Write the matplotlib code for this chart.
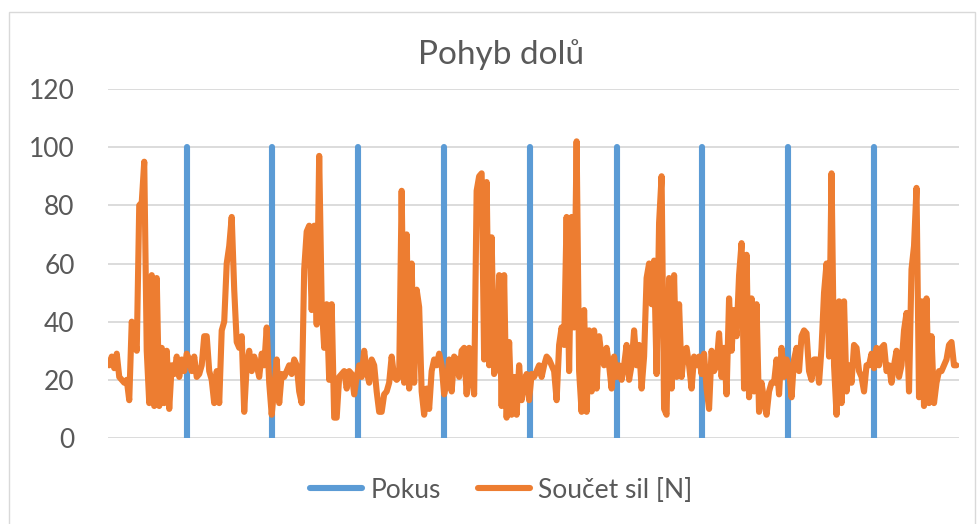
import matplotlib.pyplot as plt
from matplotlib.patches import Rectangle

# soucet sil [N] (4 hodnoty na ~10 px)
soucet_sil = [
    25, 28, 24, 29, 21, 20, 19, 20, 13, 40, 35, 30, 80, 81, 95, 30,
    12, 56, 11, 55, 11, 31, 12, 30, 10, 25, 22, 28, 21, 27, 23, 29,
    27, 23, 28, 21, 22, 25, 35, 35, 23, 20, 12, 23, 12, 37, 40, 60,
    66, 76, 51, 33, 31, 35, 9, 25, 30, 23, 28, 25, 21, 29, 25, 38,
    19, 8, 17, 27, 12, 22, 21, 23, 25, 22, 27, 25, 16, 12, 58, 71,
    73, 44, 73, 39, 97, 46, 31, 46, 20, 46, 7, 7, 21, 22, 23, 17,
    23, 22, 15, 21, 25, 21, 30, 23, 19, 27, 25, 16, 9, 9, 15, 16,
    19, 28, 21, 20, 21, 85, 19, 70, 17, 60, 19, 51, 45, 16, 8, 17,
    10, 23, 27, 25, 29, 25, 15, 19, 27, 16, 28, 27, 21, 30, 31, 15,
    31, 21, 15, 85, 90, 91, 27, 88, 25, 69, 22, 25, 56, 11, 56, 7,
    33, 8, 21, 8, 25, 13, 19, 22, 13, 22, 21, 23, 25, 21, 25, 28,
    27, 25, 23, 13, 32, 38, 32, 76, 23, 76, 38, 102, 23, 9, 44, 9,
    37, 16, 37, 17, 35, 28, 25, 31, 25, 17, 28, 21, 25, 20, 25, 32,
    20, 25, 37, 25, 32, 17, 28, 55, 60, 46, 61, 22, 74, 90, 10, 8,
    55, 17, 56, 21, 46, 21, 30, 31, 25, 17, 28, 25, 28, 22, 29, 17,
    10, 30, 23, 25, 36, 21, 31, 15, 48, 30, 44, 35, 56, 67, 17, 63,
    14, 48, 16, 46, 9, 19, 13, 8, 16, 19, 19, 27, 15, 31, 21, 27,
    24, 14, 27, 31, 23, 35, 37, 36, 23, 20, 27, 27, 19, 31, 50, 60,
    28, 91, 25, 8, 47, 12, 47, 16, 25, 19, 32, 31, 23, 21, 16, 25,
    25, 29, 24, 31, 25, 31, 32, 23, 25, 19, 25, 30, 21, 25, 37, 43,
    16, 58, 66, 86, 14, 47, 11, 48, 12, 35, 12, 19, 23, 23, 25, 27,
    32, 33, 25, 25,
]

# pokus - zacatky pokusu (index vzorku), hodnota 0 a 100
pokus_idx = [31, 65, 99.5, 134, 168.5, 203, 237, 271.5, 306]
pokus_low = 0
pokus_high = 100

modra = '#5B9BD5'
oranzova = '#ED7D31'
seda = '#595959'

plt.rcParams['font.family'] = ['Lato', 'DejaVu Sans']

fig = plt.figure(figsize=(9.79, 5.24), dpi=100)
fig.patches.append(Rectangle((9 / 979, -0.01), 966 / 979, 1 - 12 / 524 + 0.01,
                             transform=fig.transFigure, fill=False,
                             edgecolor='#D9D9D9', linewidth=1))
ax = fig.add_axes([108 / 979, 1 - 438 / 524, 851 / 979, 349 / 524])

for i, p in enumerate(pokus_idx):
    ax.plot([p, p], [pokus_low, pokus_high], color=modra, linewidth=4.4,
            solid_capstyle='round', label='Pokus' if i == 0 else None, zorder=2)

ax.plot(range(len(soucet_sil)), soucet_sil, color=oranzova, linewidth=4.4,
        solid_joinstyle='round', solid_capstyle='round',
        label='Součet sil [N]', zorder=3)

ax.set_xlim(-0.5, len(soucet_sil))
ax.set_ylim(0, 120)
ax.set_yticks(range(0, 121, 20))
ax.set_xticks([])
ax.grid(axis='y', color='#D9D9D9', linewidth=1.3, zorder=0)
ax.set_axisbelow(True)
for s in ax.spines.values():
    s.set_visible(False)
ax.tick_params(axis='y', length=0, pad=24, labelsize=19, labelcolor=seda)

fig.text(501 / 979, 1 - 55 / 524, 'Pohyb dolů', ha='center', va='center',
         fontsize=24, color=seda)

fig.legend(loc='center', bbox_to_anchor=(501 / 979, 1 - 490 / 524), ncol=2,
           frameon=False, fontsize=19, labelcolor=seda, handlelength=2.0,
           handletextpad=0.3, columnspacing=1.4)

fig.savefig('out.png', dpi=100)
